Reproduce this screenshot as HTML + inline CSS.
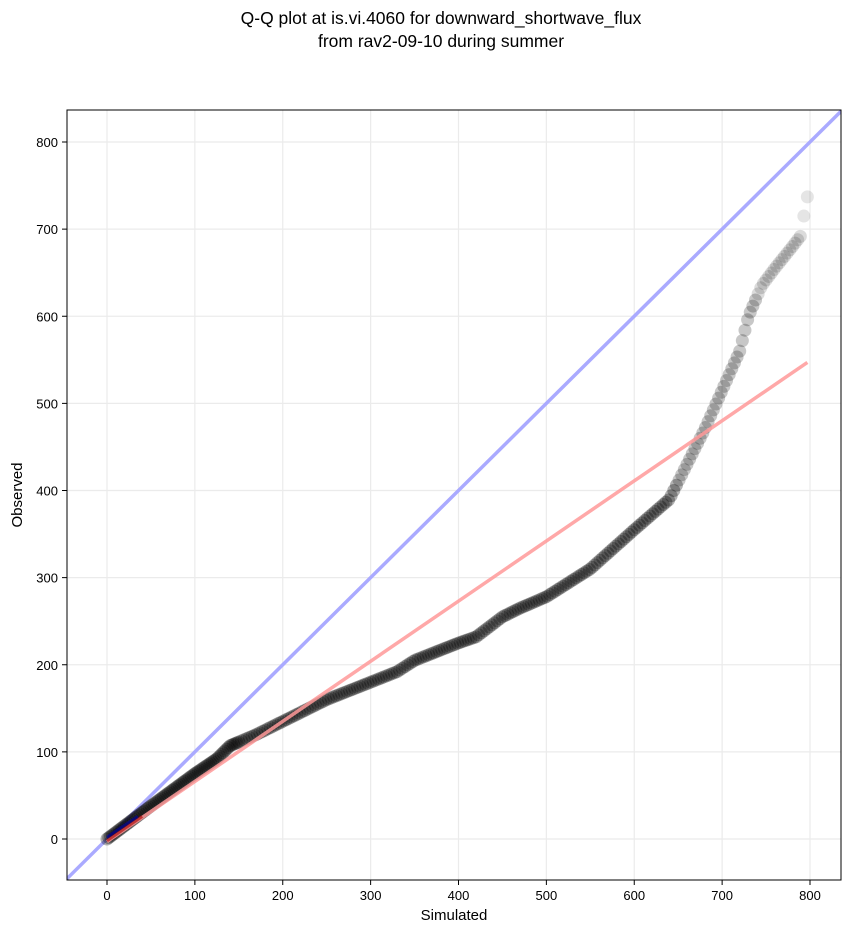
<!DOCTYPE html>
<html><head><meta charset="utf-8"><style>
body{margin:0;background:#fff;width:851px;height:934px;overflow:hidden}
svg text{font-family:"Liberation Sans",sans-serif}
</style></head><body>
<svg id="s" width="851" height="934" xmlns="http://www.w3.org/2000/svg">
<rect width="851" height="934" fill="#fff"/>
<text x="441" y="24" font-size="17.5" text-anchor="middle">Q-Q plot at is.vi.4060 for downward_shortwave_flux</text>
<text x="441" y="47" font-size="17.5" text-anchor="middle">from rav2-09-10 during summer</text>
<defs><clipPath id="c"><rect x="67" y="110" width="774" height="770"/></clipPath></defs>
<g id="grid" stroke="#ebebeb" stroke-width="1.2"></g>
<g id="ticks" font-size="13"></g>
<g clip-path="url(#c)" id="plot"></g>
<rect x="67" y="110" width="774" height="770" fill="none" stroke="#000" stroke-width="1"/>
<text x="454" y="920" font-size="15" text-anchor="middle">Simulated</text>
<text x="22" y="495" font-size="15" text-anchor="middle" transform="rotate(-90 22 495)">Observed</text>
</svg>
<script>
var ns="http://www.w3.org/2000/svg";
function X(v){return 107+v*0.87875}
function Y(v){return 839-v*0.87125}
function el(p,t,a,txt){var e=document.createElementNS(ns,t);for(var k in a)e.setAttribute(k,a[k]);if(txt!==undefined)e.textContent=txt;document.getElementById(p).appendChild(e);return e}
for(var i=0;i<=800;i+=100){
 el("grid","line",{x1:X(i),x2:X(i),y1:110,y2:880});
 el("grid","line",{x1:67,x2:841,y1:Y(i),y2:Y(i)});
 el("ticks","line",{x1:X(i),x2:X(i),y1:880,y2:885,stroke:"#000"});
 el("ticks","line",{x1:62,x2:67,y1:Y(i),y2:Y(i),stroke:"#000"});
 el("ticks","text",{x:X(i),y:900,"text-anchor":"middle"},i);
 el("ticks","text",{x:58,y:Y(i)+5,"text-anchor":"end"},i);
}
el("plot","line",{x1:X(-50),y1:Y(-50),x2:X(850),y2:Y(850),stroke:"#aaaaff","stroke-width":3.5});
var k=[[0,0],[50,38],[100,75],[125,92],[140,107],[170,120],[200,135],[250,160],[300,180],[330,192],[350,205],[400,225],[420,232],[450,255],[470,265],[500,278],[550,310],[600,355],[640,390],[655,420],[665,440],[680,470],[700,515],[720,560],[730,600],[745,635],[760,655],[780,680],[790,693]];
function interp(s){for(var i=1;i<k.length;i++){if(s<=k[i][0]){var a=k[i-1],b=k[i],t=(s-a[0])/(b[0]-a[0]);return a[1]+t*(b[1]-a[1])}}return k[k.length-1][1]}
for(var s=0;s<=790;s+=(s<150?2:3)){
 var op=s<650?0.3:(s<740?0.22:0.14);
 el("plot","circle",{cx:X(s),cy:Y(interp(s)),r:6.5,fill:"#000","fill-opacity":op});
}
el("plot","circle",{cx:X(793),cy:Y(715),r:6.5,fill:"#000","fill-opacity":0.1});
el("plot","circle",{cx:X(797),cy:Y(737),r:6.5,fill:"#000","fill-opacity":0.1});
el("plot","line",{x1:X(0),y1:Y(-3),x2:X(797),y2:Y(547),stroke:"#ff9999","stroke-width":3.5,"stroke-opacity":0.85});
el("plot","line",{x1:X(0),y1:Y(-2),x2:X(40),y2:Y(26),stroke:"#aa0000","stroke-width":3,"stroke-opacity":0.6});
el("plot","line",{x1:X(0),y1:Y(2),x2:X(35),y2:Y(26),stroke:"#0000aa","stroke-width":3,"stroke-opacity":0.6});
</script>
</body></html>
